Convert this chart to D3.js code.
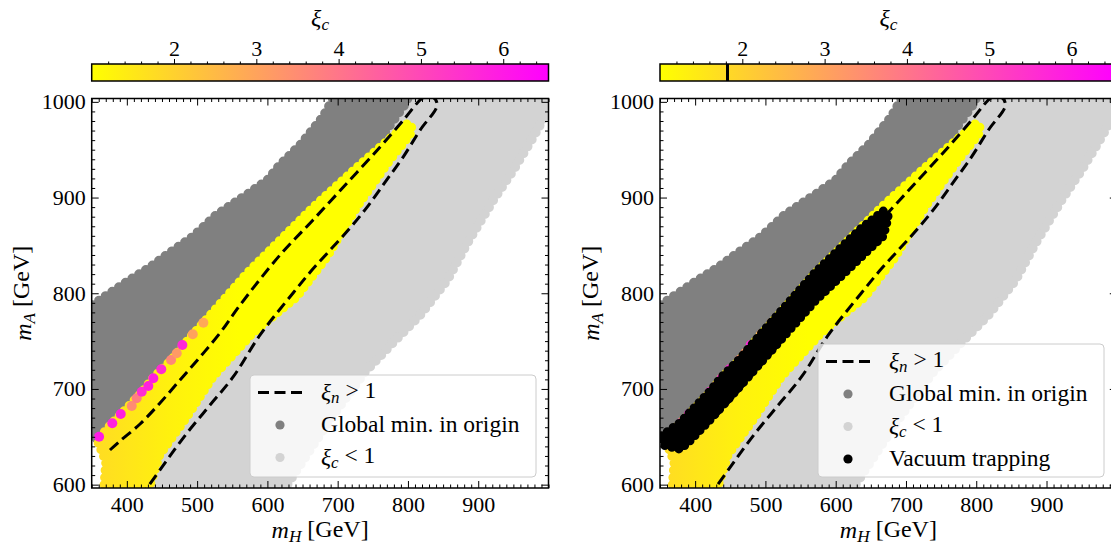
<!DOCTYPE html>
<html>
<head>
<meta charset="utf-8">
<script src="https://cdn.jsdelivr.net/npm/d3@7"></script>
<style>
  html, body { margin: 0; padding: 0; background: #fff; }
  svg text { font-family: "Liberation Serif", "DejaVu Serif", serif; fill: #000; }
</style>
</head>
<body>
<svg id="fig" width="1111" height="545"></svg>
<script>
// ---------------- data ----------------
const mHDomain = [350, 1000];
const mADomain = [596.5, 1003.5];
const xiDomain = [1.0, 6.55];
const mHTicks = [400, 500, 600, 700, 800, 900];
const mATicks = [600, 700, 800, 900, 1000];
const xiTicks = [2, 3, 4, 5, 6];
const trappingXiCut = 1.82;

// outline of the points whose global minimum sits in the origin (mH, mA)
const originMinRegion = [
  [340, 787], [350, 787], [376, 800], [409, 816], [433, 827], [457, 840], [494, 859],
  [528, 882], [575, 905], [600, 918], [618, 934], [647, 955], [679, 984], [699, 1010],
  [803, 1010], [796, 998], [759, 960], [702, 908], [665, 885], [636, 862], [571, 814],
  [508, 762], [494, 750], [463, 723], [437, 704], [421, 690], [391, 667], [378, 657],
  [360, 647], [350, 652], [340, 652]
];

// outline of the points with xi_c < 1
const xiBelowOneRegion = [
  [410, 585], [425, 640], [437, 706], [463, 725], [494, 752], [508, 763], [571, 815],
  [636, 862], [700, 905], [760, 955], [795, 1010], [994, 1010], [997, 988], [978, 963],
  [950, 929], [921, 897], [884, 852], [856, 814], [817, 777], [782, 751], [739, 718],
  [689, 668], [646, 620], [625, 596.5], [615, 585]
];

// outline of the points with xi_c > 1
const xiAboveOneRegion = [
  [366, 585], [370, 623.7], [357.5, 646.7], [379, 664.4], [391.7, 673.8], [421.6, 696.8],
  [437, 711.4], [463, 730.3], [494, 757.4], [508.5, 768.9], [571, 821.2], [636.5, 869.2],
  [665, 890.1], [727.6, 931.9], [760, 952.8], [800, 977.9], [806, 972.7], [803, 965.4],
  [774.6, 939.2], [727.6, 890.1], [685, 837.9], [642, 796.1], [579.6, 758.5],
  [522.7, 712.5], [485.7, 670.7], [447, 631], [427, 585]
];

// xi_c shading across the xi_c > 1 region, along mH
const bandShadeMH = [360, 460, 560];
const bandShadeXi = [1.75, 1.3, 1.0];

// strongest points on the upper edge of the xi_c > 1 region
const edgeMH = [360.5, 379.3, 391.3, 407, 414, 421.2, 430.6, 437.7, 449, 462.9, 471, 479, 493.8, 508.9];
const edgeMA = [650.1, 664.1, 673.8, 682.2, 690.2, 697.1, 703, 711.1, 720.5, 730.3, 737.3, 745.9, 757.1, 769.2];
const edgeXi = [6.0, 5.8, 5.9, 3.5, 3.8, 5.6, 5.8, 5.9, 5.6, 3.6, 3.2, 5.7, 3.0, 2.9];

// outline of the vacuum trapping points
const trappingRegion = [
  [352, 651], [379, 665], [391.7, 675], [421.6, 698], [437, 712], [463, 731],
  [494, 758], [508.5, 770], [571, 822], [636.5, 868], [668, 886], [675, 880],
  [668, 860], [636.5, 838], [571, 792], [508.5, 740], [463, 702], [421.6, 668],
  [391.7, 645], [379, 637], [356, 641]
];

// xi_n = 1 contour
const xiNContour = [
  [376, 636.2], [390.3, 645.6], [418.8, 663.4], [447.2, 685.3], [475.7, 709.4],
  [504.2, 733.4], [532.6, 758.5], [561.1, 787.7], [618, 840], [665, 876.6],
  [713.4, 915.2], [760.4, 952.8], [796, 983.1], [814.5, 999.8], [823, 1004.9],
  [835.8, 1004.9], [841.5, 996.6], [817.3, 970.5], [793.1, 942.3], [767.5, 916.1],
  [741.9, 890], [716.3, 867.1], [689.2, 845.1], [662.2, 823.2], [636.6, 800.3],
  [589.6, 756.4], [551.2, 712.5], [518.4, 683.2], [485.7, 654], [457.2, 625.8],
  [428.8, 596.5], [418.8, 586.1]
];

const legendLeft = ["xin", "origin", "below"];
const legendRight = ["xin", "origin", "below", "trap"];

// ---------------- layout ----------------
const svg = d3.select("#fig");
const plotTop = 98.5, plotBottom = 488, plotWidth = 456.8;
const cbarTop = 64, cbarHeight = 17;
const panels = [
  { key: "a", left: 91.7, trapping: false, legend: legendLeft, legendBox: [250, 375, 286, 102] },
  { key: "b", left: 660, trapping: true, legend: legendRight, legendBox: [818, 344, 286, 133] }
];
const darkGray = "#808080", lightGray = "#d3d3d3";
const serif = '"Liberation Serif", "DejaVu Serif", serif';
const color = d3.scaleLinear().domain(xiDomain).range(["#ffff00", "#ff00ff"]);
const defs = svg.append("defs");

function italicSub(textSel, main, sub, rest) {
  textSel.append("tspan").attr("font-style", "italic").text(main);
  textSel.append("tspan").attr("font-style", "italic").attr("font-size", "0.72em").attr("dy", "0.22em").text(sub);
  if (rest) textSel.append("tspan").attr("dy", "-0.22em").text(rest);
}

// a filled region whose outline is beaded with round marker-sized bumps
function region(g, d, paint, bead) {
  g.append("path").attr("d", d).attr("fill", paint)
    .attr("stroke", paint).attr("stroke-width", 3).attr("stroke-linejoin", "round");
  g.append("path").attr("d", d).attr("fill", "none")
    .attr("stroke", paint).attr("stroke-width", bead)
    .attr("stroke-linecap", "round").attr("stroke-dasharray", `0,${bead * 0.8}`);
}

panels.forEach(p => {
  const x = d3.scaleLinear().domain(mHDomain).range([p.left, p.left + plotWidth]);
  const y = d3.scaleLinear().domain(mADomain).range([plotBottom, plotTop]);
  const line = d3.line().x(d => x(d[0])).y(d => y(d[1]));

  defs.append("clipPath").attr("id", "clip-" + p.key)
    .append("rect").attr("x", p.left).attr("y", plotTop)
    .attr("width", plotWidth).attr("height", plotBottom - plotTop);

  const grad = defs.append("linearGradient").attr("id", "band-" + p.key)
    .attr("gradientUnits", "userSpaceOnUse")
    .attr("x1", x(bandShadeMH[0])).attr("x2", x(bandShadeMH[bandShadeMH.length - 1]))
    .attr("y1", 0).attr("y2", 0);
  bandShadeMH.forEach((m, i) => {
    grad.append("stop")
      .attr("offset", (m - bandShadeMH[0]) / (bandShadeMH[bandShadeMH.length - 1] - bandShadeMH[0]))
      .attr("stop-color", color(bandShadeXi[i]));
  });

  const g = svg.append("g").attr("clip-path", `url(#clip-${p.key})`);

  region(g, line(xiBelowOneRegion) + "Z", lightGray, 10);
  region(g, line(originMinRegion) + "Z", darkGray, 10);
  region(g, line(xiAboveOneRegion) + "Z", `url(#band-${p.key})`, 9);

  g.selectAll("circle.edge").data(edgeMH).join("circle").attr("class", "edge")
    .attr("cx", (d, i) => x(edgeMH[i])).attr("cy", (d, i) => y(edgeMA[i]))
    .attr("r", 5).attr("fill", (d, i) => color(edgeXi[i]));

  g.append("path").attr("d", d3.line().x(d => x(d[0])).y(d => y(d[1])).curve(d3.curveCatmullRom)(xiNContour))
    .attr("fill", "none").attr("stroke", "#000").attr("stroke-width", 3)
    .attr("stroke-dasharray", "11,5.5");

  if (p.trapping) {
    region(g, line(trappingRegion) + "Z", "#000", 9);
  }

  // axes: inward ticks on all four sides
  const minorMH = d3.range(350, 1001, 10).filter(v => !mHTicks.includes(v));
  const minorMA = d3.range(600, 1001, 10).filter(v => !mATicks.includes(v));
  const fmt = d3.format("d");
  const styleAxis = sel => {
    sel.select(".domain").remove();
    sel.selectAll(".tick line").attr("stroke", "#000").attr("stroke-width", 1);
    sel.selectAll("text").style("font-size", "22px").style("font-family", serif);
  };
  svg.append("g").attr("transform", `translate(0,${plotBottom})`)
    .call(d3.axisBottom(x).tickValues(mHTicks).tickFormat(fmt).tickSizeInner(-7).tickSizeOuter(0).tickPadding(8)).call(styleAxis);
  svg.append("g").attr("transform", `translate(0,${plotBottom})`)
    .call(d3.axisBottom(x).tickValues(minorMH).tickSizeInner(-3.5).tickSizeOuter(0).tickFormat("")).call(styleAxis);
  svg.append("g").attr("transform", `translate(0,${plotTop})`)
    .call(d3.axisTop(x).tickValues(mHTicks).tickSizeInner(-7).tickSizeOuter(0).tickFormat("")).call(styleAxis);
  svg.append("g").attr("transform", `translate(0,${plotTop})`)
    .call(d3.axisTop(x).tickValues(minorMH).tickSizeInner(-3.5).tickSizeOuter(0).tickFormat("")).call(styleAxis);
  svg.append("g").attr("transform", `translate(${p.left},0)`)
    .call(d3.axisLeft(y).tickValues(mATicks).tickFormat(fmt).tickSizeInner(-7).tickSizeOuter(0).tickPadding(6)).call(styleAxis);
  svg.append("g").attr("transform", `translate(${p.left},0)`)
    .call(d3.axisLeft(y).tickValues(minorMA).tickSizeInner(-3.5).tickSizeOuter(0).tickFormat("")).call(styleAxis);
  svg.append("g").attr("transform", `translate(${p.left + plotWidth},0)`)
    .call(d3.axisRight(y).tickValues(mATicks).tickSizeInner(-7).tickSizeOuter(0).tickFormat("")).call(styleAxis);
  svg.append("g").attr("transform", `translate(${p.left + plotWidth},0)`)
    .call(d3.axisRight(y).tickValues(minorMA).tickSizeInner(-3.5).tickSizeOuter(0).tickFormat("")).call(styleAxis);

  svg.append("rect").attr("x", p.left).attr("y", plotTop)
    .attr("width", plotWidth).attr("height", plotBottom - plotTop)
    .attr("fill", "none").attr("stroke", "#000").attr("stroke-width", 1.5);

  // axis titles
  const cx = p.left + plotWidth / 2;
  const xl = svg.append("text").attr("x", cx).attr("y", 538).attr("text-anchor", "middle").style("font-size", "24px");
  italicSub(xl, "m", "H", " [GeV]");
  const yl = svg.append("text").attr("transform", `translate(${p.left - 61},${(plotTop + plotBottom) / 2}) rotate(-90)`)
    .attr("text-anchor", "middle").style("font-size", "24px");
  italicSub(yl, "m", "A", " [GeV]");

  // colour bar
  const cb = d3.scaleLinear().domain(xiDomain).range([p.left, p.left + plotWidth]);
  const cg = defs.append("linearGradient").attr("id", "cbar-" + p.key)
    .attr("gradientUnits", "userSpaceOnUse")
    .attr("x1", cb(xiDomain[0])).attr("x2", cb(xiDomain[1])).attr("y1", 0).attr("y2", 0);
  cg.append("stop").attr("offset", 0).attr("stop-color", color(xiDomain[0]));
  cg.append("stop").attr("offset", 1).attr("stop-color", color(xiDomain[1]));
  svg.append("rect").attr("x", p.left).attr("y", cbarTop).attr("width", plotWidth).attr("height", cbarHeight)
    .attr("fill", `url(#cbar-${p.key})`);
  if (p.trapping) {
    svg.append("line").attr("x1", cb(trappingXiCut)).attr("x2", cb(trappingXiCut))
      .attr("y1", cbarTop).attr("y2", cbarTop + cbarHeight)
      .attr("stroke", "#000").attr("stroke-width", 3);
  }
  svg.append("rect").attr("x", p.left).attr("y", cbarTop).attr("width", plotWidth).attr("height", cbarHeight)
    .attr("fill", "none").attr("stroke", "#000").attr("stroke-width", 1.5);
  const minorXi = d3.range(12, 66, 2).map(v => v / 10).filter(v => !xiTicks.includes(v));
  svg.append("g").attr("transform", `translate(0,${cbarTop})`)
    .call(d3.axisTop(cb).tickValues(xiTicks).tickFormat(fmt).tickSizeInner(5).tickSizeOuter(0).tickPadding(3)).call(styleAxis);
  svg.append("g").attr("transform", `translate(0,${cbarTop})`)
    .call(d3.axisTop(cb).tickValues(minorXi).tickSizeInner(2.5).tickSizeOuter(0).tickFormat("")).call(styleAxis);
  const cl = svg.append("text").attr("x", cx).attr("y", 26).attr("text-anchor", "middle").style("font-size", "24px");
  italicSub(cl, "ξ", "c");

  // legend
  const [lx, ly, lw, lh] = p.legendBox;
  svg.append("rect").attr("x", lx).attr("y", ly).attr("width", lw).attr("height", lh)
    .attr("rx", 4).attr("fill", "#fff").attr("fill-opacity", 0.8)
    .attr("stroke", "#cccccc").attr("stroke-width", 1);
  p.legend.forEach((k, i) => {
    const ry = ly + 17.5 + i * 32.5;
    const sx = lx + 8;
    if (k === "xin") {
      svg.append("line").attr("x1", sx).attr("x2", sx + 44).attr("y1", ry).attr("y2", ry)
        .attr("stroke", "#000").attr("stroke-width", 3).attr("stroke-dasharray", "11,5.5");
    } else {
      const fill = k === "origin" ? darkGray : k === "below" ? lightGray : "#000";
      svg.append("circle").attr("cx", sx + 22).attr("cy", ry).attr("r", 4.6).attr("fill", fill);
    }
    const t = svg.append("text").attr("x", lx + 71).attr("y", ry + 7).style("font-size", "23.5px");
    if (k === "xin") italicSub(t, "ξ", "n", " > 1");
    else if (k === "below") italicSub(t, "ξ", "c", " < 1");
    else if (k === "origin") t.text("Global min. in origin");
    else t.text("Vacuum trapping");
  });
});
</script>
</body>
</html>
